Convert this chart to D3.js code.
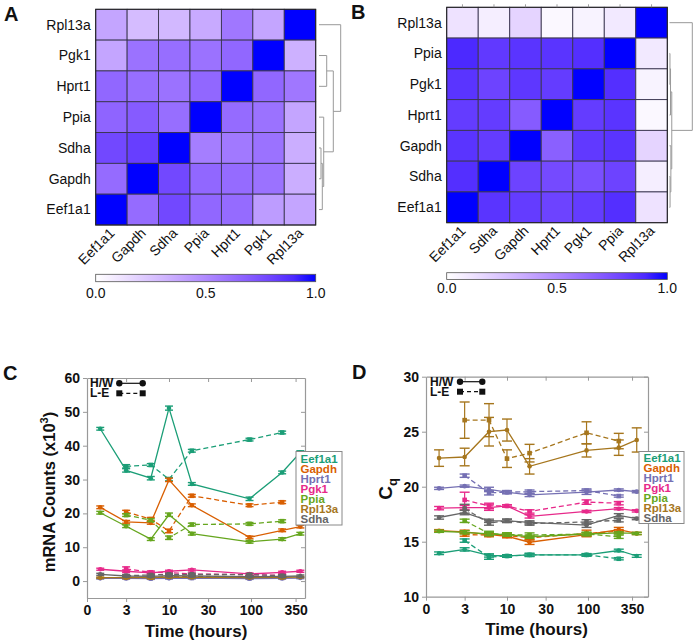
<!DOCTYPE html>
<html><head><meta charset="utf-8">
<script src="https://cdn.jsdelivr.net/npm/d3@7"></script>
<style>body{margin:0;background:#fff}svg{font-family:"Liberation Sans",Arial,sans-serif;display:block}</style>
</head><body>
<svg id="fig" width="694" height="641"></svg>
<script>
// ---------------- DATA ----------------
const rowsA = ["Rpl13a","Pgk1","Hprt1","Ppia","Sdha","Gapdh","Eef1a1"];
const colsA = ["Eef1a1","Gapdh","Sdha","Ppia","Hprt1","Pgk1","Rpl13a"];
const corrA = [
  [0.38,0.28,0.30,0.36,0.58,0.38,1.00],
  [0.38,0.60,0.62,0.60,0.65,1.00,0.33],
  [0.65,0.62,0.60,0.65,1.00,0.65,0.58],
  [0.66,0.70,0.62,1.00,0.63,0.60,0.38],
  [0.78,0.82,1.00,0.55,0.57,0.60,0.34],
  [0.63,1.00,0.78,0.65,0.63,0.60,0.34],
  [1.00,0.63,0.78,0.65,0.63,0.42,0.38]
];
const rowsB = ["Rpl13a","Ppia","Pgk1","Hprt1","Gapdh","Sdha","Eef1a1"];
const colsB = ["Eef1a1","Sdha","Gapdh","Hprt1","Pgk1","Ppia","Rpl13a"];
const corrB = [
  [0.12,0.07,0.18,0.03,0.05,0.09,1.00],
  [0.90,0.84,0.86,0.86,0.88,1.00,0.09],
  [0.86,0.80,0.85,0.83,1.00,0.88,0.05],
  [0.83,0.83,0.70,1.00,0.83,0.86,0.03],
  [0.86,0.83,1.00,0.68,0.84,0.86,0.18],
  [0.88,1.00,0.80,0.77,0.75,0.80,0.07],
  [1.00,0.86,0.83,0.80,0.83,0.88,0.12]
];
// dendrograms: [left, right, height]
const dendA = ["Rpl13a", [["Pgk1","Hprt1",0.355], ["Ppia", [["Sdha","Gapdh",0.092],"Eef1a1",0.152], 0.217], 0.659], 1.0];
const dendB = ["Rpl13a", [[["Ppia","Pgk1",0.02],"Hprt1",0.045], ["Gapdh",["Sdha","Eef1a1",0.025],0.06], 0.1], 1.0];
const colorbarTicks = [0, 0.5, 1];
const colorbarLabels = ["0.0","0.5","1.0"];

const genes = ["Eef1a1","Gapdh","Hprt1","Pgk1","Ppia","Rpl13a","Sdha"];
const geneColors = ["#1b9e77","#d95f02","#7570b3","#e7298a","#66a61e","#a6761d","#666666"];
const times = [1.45, 3, 6, 10, 19, 96, 240, 400];
const xTickVals = [1, 3, 10, 30, 100, 350];
const xTickLabels = ["0","3","10","30","100","350"];
const groupLabels = ["H/W","L-E"];

// mRNA counts (x10^3), H/W and L-E
const countsHW = [
  [45.0,32.7,30.4,51.1,28.7,24.3,32.1,38.0],
  [21.8,17.5,17.2,29.9,22.4,12.9,15.0,16.1],
  [0.8,0.8,0.7,0.8,0.9,0.7,0.8,0.9],
  [3.5,2.9,2.4,2.9,3.3,2.1,2.6,2.9],
  [20.2,16.2,12.4,19.6,14.0,11.6,12.4,14.0],
  [1.0,1.0,1.1,1.2,1.1,1.0,1.1,1.2],
  [2.0,1.5,1.4,1.6,1.5,1.3,1.4,1.5]
];
const countsLE = [
  [null,33.9,34.3,30.1,38.5,41.8,43.9,null],
  [null,20.4,18.3,14.8,25.2,22.4,23.3,null],
  [null,0.9,0.8,1.0,0.9,0.8,0.9,null],
  [null,3.6,2.6,2.5,2.1,1.9,1.7,null],
  [null,19.5,18.0,12.8,16.7,16.9,17.7,null],
  [null,1.1,1.0,1.3,1.4,1.3,1.1,null],
  [null,1.6,1.8,2.0,2.0,1.9,1.6,null]
];
const countsErrHW = [
  [0.4,0.5,0.5,0.6,0.4,0.5,0.4,0.5],
  [0.4,0.4,0.4,0.5,0.4,0.4,0.4,0.4],
  [0.2,0.2,0.2,0.2,0.2,0.2,0.2,0.2],
  [0.3,0.4,0.3,0.3,0.3,0.3,0.3,0.3],
  [0.4,0.4,0.4,0.5,0.4,0.4,0.4,0.4],
  [0.2,0.2,0.3,0.2,0.2,0.2,0.2,0.2],
  [0.3,0.3,0.3,0.3,0.3,0.3,0.3,0.3]
];
const countsErrLE = [
  [null,0.5,0.4,0.5,0.4,0.4,0.4,null],
  [null,0.5,0.5,0.5,0.4,0.4,0.4,null],
  [null,0.2,0.2,0.2,0.2,0.2,0.2,null],
  [null,0.6,0.4,0.3,0.3,0.3,0.3,null],
  [null,0.4,0.4,0.5,0.4,0.4,0.4,null],
  [null,0.3,0.3,0.3,0.3,0.3,0.3,null],
  [null,0.3,0.3,0.3,0.3,0.3,0.3,null]
];
// Cq values
const cqHW = [
  [13.95,14.3,13.75,13.7,13.8,13.8,14.2,13.7],
  [16.0,15.9,15.65,15.5,14.95,15.65,16.1,15.75],
  [19.85,20.05,19.75,19.5,19.25,19.5,19.7,19.55],
  [18.05,18.1,18.1,18.25,17.3,17.75,18.0,17.8],
  [15.95,15.85,15.7,15.65,15.45,15.7,15.8,15.75],
  [22.6,22.7,25.0,25.15,21.85,23.3,23.55,24.25],
  [17.2,17.65,16.9,16.9,16.75,16.5,17.4,17.1]
];
const cqLE = [
  [null,15.1,13.6,13.7,13.8,13.8,13.45,null],
  [null,15.65,15.6,15.55,15.35,15.75,15.95,null],
  [null,21.0,19.45,19.5,19.55,19.65,19.15,null],
  [null,18.8,18.25,18.25,17.75,18.6,18.5,null],
  [null,16.9,15.75,15.65,15.6,15.7,15.45,null],
  [null,26.05,26.05,22.55,23.05,24.9,24.15,null],
  [null,18.0,16.7,16.9,16.65,16.8,16.95,null]
];
const cqErrHW = [
  [0.12,0.15,0.15,0.12,0.12,0.12,0.12,0.12],
  [0.1,0.15,0.15,0.15,0.2,0.15,0.2,0.1],
  [0.1,0.1,0.2,0.15,0.15,0.2,0.1,0.1],
  [0.15,0.2,0.25,0.1,0.15,0.1,0.1,0.1],
  [0.1,0.15,0.15,0.15,0.15,0.15,0.1,0.1],
  [0.75,0.8,1.3,1.0,0.7,0.6,0.7,1.1],
  [0.15,0.2,0.15,0.15,0.15,0.2,0.15,0.1]
];
const cqErrLE = [
  [null,0.15,0.2,0.1,0.15,0.1,0.1,null],
  [null,0.15,0.15,0.15,0.15,0.3,0.15,null],
  [null,0.15,0.2,0.1,0.15,0.15,0.1,null],
  [null,0.7,0.25,0.1,0.15,0.2,0.15,null],
  [null,0.15,0.2,0.15,0.2,0.15,0.15,null],
  [null,1.65,1.5,0.8,0.8,1.0,0.7,null],
  [null,0.4,0.2,0.15,0.15,0.2,0.15,null]
];
const countsTicks = [0,10,20,30,40,50,60];
const cqTicks = [10,15,20,25,30];

// ---------------- DRAW ----------------
const svg = d3.select("#fig");
const colorScale = d3.scaleLinear().domain([0,1]).range(["#ffffff","#0000ff"]).interpolate(d3.interpolateLab);

function heatmap(cfg) {
  const g = svg.append("g");
  const x = d3.scaleBand().domain(cfg.cols).range([cfg.x0, cfg.x1]);
  const y = d3.scaleBand().domain(cfg.rows).range([cfg.y0, cfg.y1]);
  const cells = [];
  cfg.rows.forEach((r,i)=>cfg.cols.forEach((c,j)=>cells.push({r,c,v:cfg.m[i][j]})));
  g.selectAll("rect.cell").data(cells).join("rect").attr("class","cell")
    .attr("x",d=>x(d.c)).attr("y",d=>y(d.r))
    .attr("width",x.bandwidth()).attr("height",y.bandwidth())
    .attr("fill",d=>colorScale(d.v)).attr("stroke","#3a3550").attr("stroke-width",0.9);
  g.append("rect").attr("x",cfg.x0).attr("y",cfg.y0).attr("width",cfg.x1-cfg.x0).attr("height",cfg.y1-cfg.y0)
    .attr("fill","none").attr("stroke","#222").attr("stroke-width",1);
  if (cfg.topTicks) {
    g.selectAll("line.tt").data(cfg.cols).join("line")
      .attr("x1",d=>x(d)+x.bandwidth()/2).attr("x2",d=>x(d)+x.bandwidth()/2)
      .attr("y1",cfg.y0-3).attr("y2",cfg.y0).attr("stroke","#888").attr("stroke-width",0.8);
  }
  g.selectAll("text.rl").data(cfg.rows).join("text")
    .attr("x",cfg.x0-5).attr("y",d=>y(d)+y.bandwidth()/2).attr("dy","0.35em")
    .attr("text-anchor","end").attr("font-size",14).attr("fill","#111").text(d=>d);
  g.selectAll("text.cl").data(cfg.cols).join("text")
    .attr("transform",d=>`translate(${x(d)+x.bandwidth()/2+4},${cfg.y1+9}) rotate(-45)`)
    .attr("text-anchor","end").attr("font-size",14).attr("fill","#111").text(d=>d);
  // colour bar
  const gid = "grad"+cfg.id;
  const grad = svg.append("defs").append("linearGradient").attr("id",gid);
  d3.range(0,1.0001,0.1).forEach(t=>grad.append("stop").attr("offset",t).attr("stop-color",colorScale(t)));
  const cb = d3.scaleLinear().domain([0,1]).range([cfg.x0,cfg.x1]);
  g.append("rect").attr("x",cfg.x0).attr("y",cfg.cbY).attr("width",cfg.x1-cfg.x0).attr("height",cfg.cbH)
    .attr("fill",`url(#${gid})`).attr("stroke","#555").attr("stroke-width",0.8);
  g.selectAll("text.cb").data(colorbarTicks).join("text")
    .attr("x",d=>cb(d)).attr("y",cfg.cbLab).attr("text-anchor","middle")
    .attr("font-size",14).attr("fill","#111").text((d,i)=>colorbarLabels[i]);
  // dendrogram
  const hx = d3.scaleLinear().domain([0,1]).range([cfg.dx0,cfg.dx1]);
  function build(n){
    if (typeof n === "string") return {y:y(n)+y.bandwidth()/2, h:0};
    const a = build(n[0]), b = build(n[1]), h = n[2];
    const yy = (a.y+b.y)/2;
    [a,b].forEach(ch=>g.append("line").attr("x1",hx(ch.h)).attr("x2",hx(h)).attr("y1",ch.y).attr("y2",ch.y)
      .attr("stroke","#999").attr("stroke-width",1));
    g.append("line").attr("x1",hx(h)).attr("x2",hx(h)).attr("y1",a.y).attr("y2",b.y)
      .attr("stroke","#999").attr("stroke-width",1);
    return {y:yy,h};
  }
  build(cfg.dend);
}

heatmap({id:"A",rows:rowsA,cols:colsA,m:corrA,x0:95.7,x1:315.7,y0:9.3,y1:225,cbY:274.3,cbH:7.4,cbLab:298,dx0:319,dx1:340.7,dend:dendA});
heatmap({id:"B",rows:rowsB,cols:colsB,m:corrB,x0:446.7,x1:667.3,y0:7.3,y1:222.7,cbY:272.7,cbH:6.8,cbLab:292.5,dx0:669.5,dx1:692.3,dend:dendB,topTicks:true});

function linePanel(p) {
  const g = svg.append("g");
  const x = d3.scaleLog().domain(p.xDomain).range([p.left,p.right]);
  const y = d3.scaleLinear().domain(p.yDomain).range([p.bottom,p.top]);
  const ax = [];
  ax.push(g.append("g").attr("transform",`translate(${p.left},0)`)
    .call(d3.axisLeft(y).tickValues(p.yTicks).tickSize(4).tickSizeOuter(0)));
  ax.push(g.append("g").attr("transform",`translate(${p.right},0)`)
    .call(d3.axisRight(y).tickValues(p.yTicks).tickSize(-4).tickSizeOuter(0).tickFormat("")));
  ax.push(g.append("g").attr("transform",`translate(0,${p.bottom})`)
    .call(d3.axisBottom(x).tickValues(xTickVals).tickSize(4).tickSizeOuter(0).tickFormat((d,i)=>xTickLabels[i])));
  ax.push(g.append("g").attr("transform",`translate(0,${p.top})`)
    .call(d3.axisTop(x).tickValues(xTickVals.slice(1)).tickSize(-4).tickSizeOuter(0).tickFormat("")));
  ax.forEach(a=>{
    a.select(".domain").attr("stroke","#999").attr("stroke-width",1.2);
    a.selectAll(".tick line").attr("stroke","#999");
    a.selectAll("text").attr("font-size",14).attr("font-weight","bold").attr("fill","#111")
      .attr("font-family",'"Liberation Sans",Arial,sans-serif');
  });
  const line = d3.line().defined(d=>d.v!=null).x(d=>x(d.t)).y(d=>y(d.v));
  const groups = [{vals:p.hw,err:p.ehw,dash:null,shape:"c"},{vals:p.le,err:p.ele,dash:"5,3",shape:"s"}];
  genes.forEach((gn,gi)=>{
    const col = geneColors[gi];
    groups.forEach(gr=>{
      const pts = times.map((t,i)=>({t,v:gr.vals[gi][i],e:gr.err[gi][i]}));
      g.append("path").datum(pts).attr("d",line).attr("fill","none").attr("stroke",col)
        .attr("stroke-width",1.3).attr("stroke-dasharray",gr.dash);
      const ok = pts.filter(d=>d.v!=null);
      ok.forEach(d=>{
        const cx=x(d.t), y1=y(d.v+d.e), y2=y(d.v-d.e);
        g.append("line").attr("x1",cx).attr("x2",cx).attr("y1",y1).attr("y2",y2).attr("stroke",col).attr("stroke-width",1.2);
        [y1,y2].forEach(yy=>g.append("line").attr("x1",cx-p.cap).attr("x2",cx+p.cap).attr("y1",yy).attr("y2",yy).attr("stroke",col).attr("stroke-width",1.4));
        if (gr.shape==="c") g.append("circle").attr("cx",cx).attr("cy",y(d.v)).attr("r",2.3).attr("fill",col);
        else g.append("rect").attr("x",cx-2.3).attr("y",y(d.v)-2.3).attr("width",4.6).attr("height",4.6).attr("fill",col);
      });
    });
  });
  // group legend
  groupLabels.forEach((lab,i)=>{
    const yy = p.glY[i];
    g.append("text").attr("x",p.glX).attr("y",yy+4).attr("font-size",12).attr("font-weight","bold").attr("fill","#111").text(lab);
    g.append("line").attr("x1",p.gm[0]).attr("x2",p.gm[1]).attr("y1",yy).attr("y2",yy).attr("stroke","#111")
      .attr("stroke-width",1.2).attr("stroke-dasharray",i?"4,3":null);
    p.gm.forEach(mx=>{
      if (i===0) g.append("circle").attr("cx",mx).attr("cy",yy).attr("r",3.2).attr("fill","#111");
      else g.append("rect").attr("x",mx-3).attr("y",yy-3).attr("width",6).attr("height",6).attr("fill","#111");
    });
  });
  // gene legend
  g.append("rect").attr("x",p.lg[0]).attr("y",p.lg[1]).attr("width",p.lg[2]).attr("height",p.lg[3])
    .attr("fill","#fff").attr("stroke","#888").attr("stroke-width",1);
  g.selectAll("text.lg").data(genes).join("text").attr("x",p.lg[0]+4.5).attr("y",(d,i)=>p.lgY0+i*10)
    .attr("font-size",11.5).attr("font-weight","bold").attr("fill",(d,i)=>geneColors[i]).text(d=>d);
  // titles
  g.append("text").attr("x",(p.titleX)).attr("y",p.titleY).attr("text-anchor","middle")
    .attr("font-size",17).attr("font-weight","bold").attr("fill","#111").text("Time (hours)");
  const yt = g.append("text").attr("transform",`translate(${p.ytX},${p.ytY}) rotate(-90)`).attr("text-anchor","middle")
    .attr("font-weight","bold").attr("fill","#111").attr("font-size",p.ytSize);
  p.ytParts.forEach(part=>yt.append("tspan").attr("dy",part.dy).attr("font-size",part.fs).text(part.t));
}

linePanel({left:87,right:305,top:378,bottom:598,xDomain:[1,456],yDomain:[-5,60],yTicks:countsTicks,
  hw:countsHW,le:countsLE,ehw:countsErrHW,ele:countsErrLE,cap:4,
  glX:90,glY:[383.3,393.3],gm:[119.3,142.7],lg:[296,451.5,46,73.5],lgY0:463,
  titleX:196,titleY:636.5,ytX:55,ytY:492,ytSize:16.5,
  ytParts:[{t:"mRNA Counts (x10",dy:0,fs:16.5},{t:"3",dy:-7,fs:11},{t:")",dy:7,fs:16.5}]});
linePanel({left:426,right:648,top:376.7,bottom:596.7,xDomain:[1,551],yDomain:[10,30],yTicks:cqTicks,
  hw:cqHW,le:cqLE,ehw:cqErrHW,ele:cqErrLE,cap:5,
  glX:430,glY:[381.7,391.7],gm:[460,482.3],lg:[639,451.5,45,72],lgY0:461.5,
  titleX:536.5,titleY:635,ytX:392,ytY:489,ytSize:19,
  ytParts:[{t:"C",dy:0,fs:19},{t:"q",dy:5,fs:13}]});

// panel letters
[["A",4,21],["B",351,19],["C",3,380],["D",352,379]].forEach(([t,x,y])=>
  svg.append("text").attr("x",x).attr("y",y).attr("font-size",20).attr("font-weight","bold").attr("fill","#111").text(t));
</script>
</body></html>
